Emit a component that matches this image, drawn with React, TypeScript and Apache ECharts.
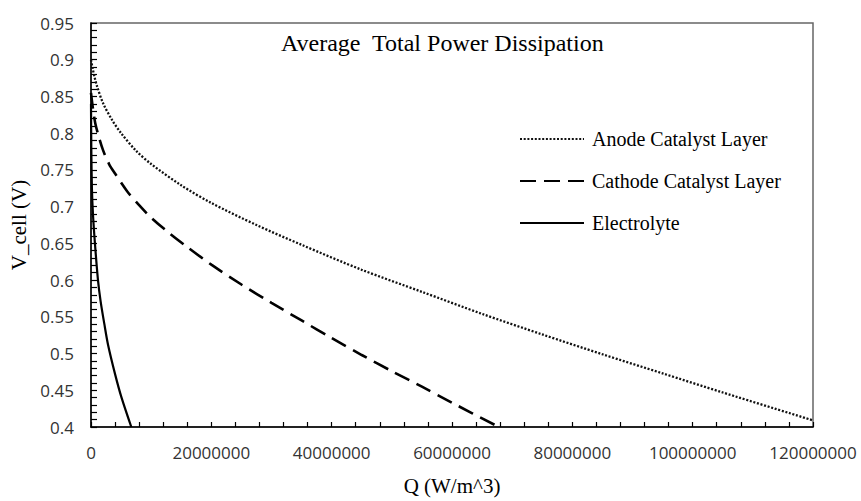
import React, { useEffect, useRef } from "react";
import * as echarts from "echarts";

const titleText = "Average  Total Power Dissipation";
const xAxisName = "Q (W/m^3)";
const yAxisName = "V_cell (V)";

const seriesNames = ["Anode Catalyst Layer", "Cathode Catalyst Layer", "Electrolyte"];

const anodeQ = [0, 250000, 600000, 1000000, 2000000, 3500000, 5000000, 7500000, 10000000, 15000000, 20000000, 27500000, 35000000, 45000000, 55000000, 65000000, 75000000, 85000000, 95000000, 105000000, 120000000];
const anodeV = [0.9, 0.889, 0.876, 0.864, 0.841, 0.818, 0.8, 0.776, 0.758, 0.729, 0.705, 0.675, 0.648, 0.614, 0.584, 0.554, 0.526, 0.499, 0.473, 0.447, 0.409];

const cathodeQ = [0, 300000, 700000, 1200000, 2000000, 3000000, 4000000, 6000000, 8000000, 10000000, 13000000, 16000000, 20000000, 25000000, 30000000, 35000000, 40000000, 45000000, 50000000, 55000000, 60000000, 67800000];
const cathodeV = [0.855, 0.835, 0.814, 0.798, 0.777, 0.758, 0.745, 0.721, 0.702, 0.685, 0.664, 0.645, 0.621, 0.594, 0.569, 0.545, 0.521, 0.498, 0.476, 0.455, 0.433, 0.4];

const electrolyteQ = [0, 50000, 150000, 330000, 700000, 1160000, 1600000, 2200000, 2830000, 4000000, 5040000, 6700000];
const electrolyteV = [0.84, 0.78, 0.725, 0.689, 0.645, 0.6, 0.571, 0.541, 0.512, 0.472, 0.441, 0.4];

const xMin = 0;
const xMax = 120000000;
const xInterval = 20000000;
const yMin = 0.4;
const yMax = 0.95;
const yInterval = 0.05;

const pairs = (q: number[], v: number[]) => q.map((x, i) => [x, v[i]]);

export default function App() {
  const ref = useRef<HTMLDivElement>(null);
  useEffect(() => {
    if (!ref.current) return;
    const chart = echarts.init(ref.current, null, { renderer: "svg" });
    const serif = "'Liberation Serif', 'Times New Roman', serif";
    const sans = "'Open Sans', 'Noto Sans', sans-serif";
    chart.setOption({
      animation: false,
      backgroundColor: "#ffffff",
      title: {
        text: titleText,
        left: 281,
        top: 31,
        padding: 0,
        textStyle: { fontFamily: serif, fontSize: 24, fontWeight: "normal", color: "#000" },
      },
      legend: {
        orient: "vertical",
        left: 519,
        top: 129,
        padding: 0,
        itemWidth: 64,
        itemHeight: 20,
        itemGap: 22,
        data: seriesNames,
        itemStyle: { color: "transparent", borderWidth: 0, opacity: 0 },
        textStyle: { fontFamily: serif, fontSize: 20, color: "#000", padding: [0, 0, 0, 3] },
      },
      grid: {
        left: 91,
        right: 48,
        top: 23,
        bottom: 63,
        show: true,
        borderColor: "#666",
        borderWidth: 1.5,
        containLabel: false,
      },
      xAxis: {
        type: "value",
        min: xMin,
        max: xMax,
        interval: xInterval,
        name: xAxisName,
        nameLocation: "middle",
        nameGap: 48,
        nameTextStyle: { fontFamily: serif, fontSize: 21, color: "#000" },
        axisLine: { show: true, lineStyle: { color: "#000", width: 1.5 } },
        axisTick: { show: true, inside: true, length: 5, lineStyle: { color: "#000", width: 1.2 } },
        minorTick: { show: true, splitNumber: 5, length: 5, lineStyle: { color: "#000", width: 1.2 } },
        splitLine: { show: false },
        axisLabel: {
          fontFamily: sans,
          fontSize: 17,
          color: "#333",
          margin: 17,
          formatter: (v: number) => String(Math.round(v)),
        },
      },
      yAxis: {
        type: "value",
        min: yMin,
        max: yMax,
        interval: yInterval,
        name: yAxisName,
        nameLocation: "middle",
        nameGap: 62,
        nameTextStyle: { fontFamily: serif, fontSize: 21, color: "#000" },
        axisLine: { show: true, lineStyle: { color: "#000", width: 1.5 } },
        axisTick: { show: true, inside: true, length: 6, lineStyle: { color: "#000", width: 1.2 } },
        minorTick: { show: true, splitNumber: 5, length: 6, lineStyle: { color: "#000", width: 1.2 } },
        splitLine: { show: false },
        axisLabel: { fontFamily: sans, fontSize: 17, color: "#333", margin: 17 },
      },
      series: [
        {
          name: seriesNames[0],
          type: "line",
          data: pairs(anodeQ, anodeV),
          showSymbol: false,
          symbol: "none",
          smooth: 0.3,
          lineStyle: { color: "#111", width: 2.3, type: [2, 1.7] },
          itemStyle: { color: "#111" },
        },
        {
          name: seriesNames[1],
          type: "line",
          data: pairs(cathodeQ, cathodeV),
          showSymbol: false,
          symbol: "none",
          smooth: 0.3,
          lineStyle: { color: "#000", width: 2.6, type: [16, 8] },
          itemStyle: { color: "#000" },
        },
        {
          name: seriesNames[2],
          type: "line",
          data: pairs(electrolyteQ, electrolyteV),
          showSymbol: false,
          symbol: "none",
          smooth: 0.3,
          lineStyle: { color: "#000", width: 2.2 },
          itemStyle: { color: "#000" },
        },
      ],
    });
    return () => chart.dispose();
  }, []);
  return <div ref={ref} style={{ width: 861, height: 501, position: "absolute", left: 0, top: 0 }} />;
}
